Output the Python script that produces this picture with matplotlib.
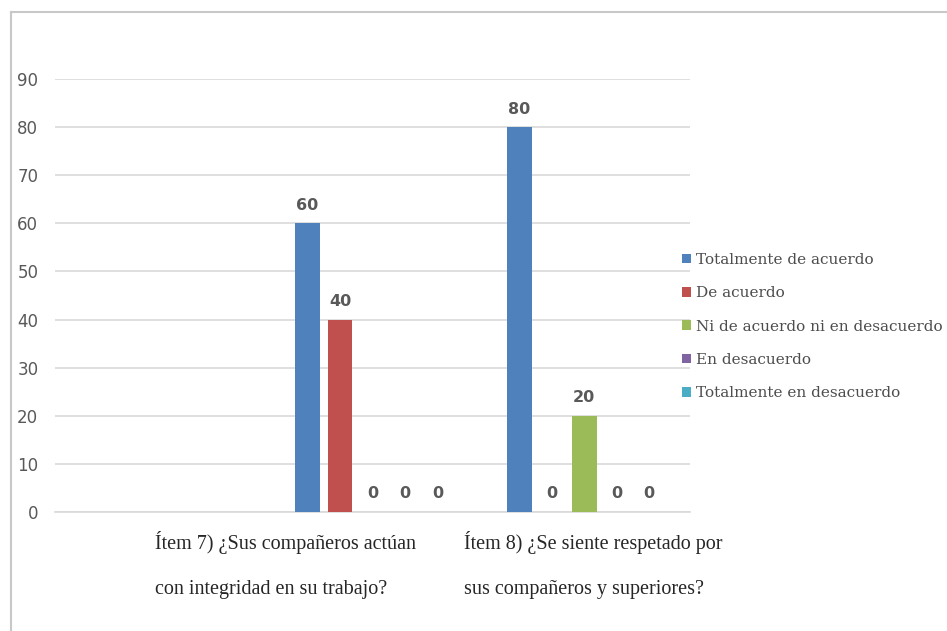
import matplotlib
matplotlib.use("Agg")
import matplotlib.pyplot as plt
from matplotlib.lines import Line2D
from matplotlib.patches import Patch
import numpy as np

categories = ["", "Ítem 7) ¿Sus compañeros actúan\ncon integridad en su trabajo?",
              "Ítem 8) ¿Se siente respetado por\nsus compañeros y superiores?"]
series_names = ["Totalmente de acuerdo", "De acuerdo", "Ni de acuerdo ni en desacuerdo",
                "En desacuerdo", "Totalmente en desacuerdo"]
values = {
    "Totalmente de acuerdo": [None, 60, 80],
    "De acuerdo": [None, 40, 0],
    "Ni de acuerdo ni en desacuerdo": [None, 0, 20],
    "En desacuerdo": [None, 0, 0],
    "Totalmente en desacuerdo": [None, 0, 0],
}
colors = ["#4F81BD", "#C0504D", "#9BBB59", "#8064A2", "#4BACC6"]
yticks = [0, 10, 20, 30, 40, 50, 60, 70, 80, 90]

W, H = 947, 631
fig = plt.figure(figsize=(W / 100, H / 100), dpi=100)
ax = fig.add_axes([55 / W, 1 - 512 / H, (690 - 55) / W, (512 - 79) / H])

slot = 0.1535
bw = 0.118
x = np.arange(len(categories))
for i, name in enumerate(series_names):
    off = (i - 2) * slot
    for j, v in enumerate(values[name]):
        if v is None:
            continue
        ax.bar(x[j] + off, v, width=bw, color=colors[i], zorder=3)
        ax.text(x[j] + off, v + 2.2, str(v), ha="center", va="bottom",
                fontsize=11.5, color="#595959", fontweight="bold", family="DejaVu Sans")

ax.set_xlim(-0.5, 2.5)
ax.set_ylim(0, 90)
ax.set_yticks(yticks)
ax.set_yticklabels([str(t) for t in yticks], fontsize=12, color="#595959")
ax.tick_params(axis="y", length=0, pad=12)
ax.set_xticks([])
ax.grid(axis="y", color="#d9d9d9", linewidth=1.2, zorder=0)
for s in ["top", "right", "left"]:
    ax.spines[s].set_visible(False)
ax.spines["bottom"].set_color("#d9d9d9")
ax.spines["bottom"].set_linewidth(1.2)

# category labels
label_x = [None, 155, 464]
for j, lab in enumerate(categories):
    if not lab:
        continue
    fig.text(label_x[j] / W, 1 - 531 / H, lab, ha="left", va="top",
             fontsize=14.5, family="Liberation Serif", color="#262626", linespacing=2.85)

# legend
handles = [Patch(facecolor=c, edgecolor="none") for c in colors]
leg = fig.legend(handles, series_names, loc="upper left",
                 bbox_to_anchor=(668 / W, 1 - 239 / H), frameon=False,
                 prop={"family": "DejaVu Serif", "size": 11},
                 handlelength=0.6, handleheight=0.6, handletextpad=0.3,
                 labelspacing=1.27, labelcolor="#4d4d4d")

# outer frame
fig.add_artist(Line2D([10.5 / W, 10.5 / W], [0, 1 - 11.5 / H], color="#c8c8c8", linewidth=1.5, transform=fig.transFigure))
fig.add_artist(Line2D([10.5 / W, 1], [1 - 11.5 / H, 1 - 11.5 / H], color="#c8c8c8", linewidth=1.5, transform=fig.transFigure))

fig.savefig("out.png", dpi=100)
